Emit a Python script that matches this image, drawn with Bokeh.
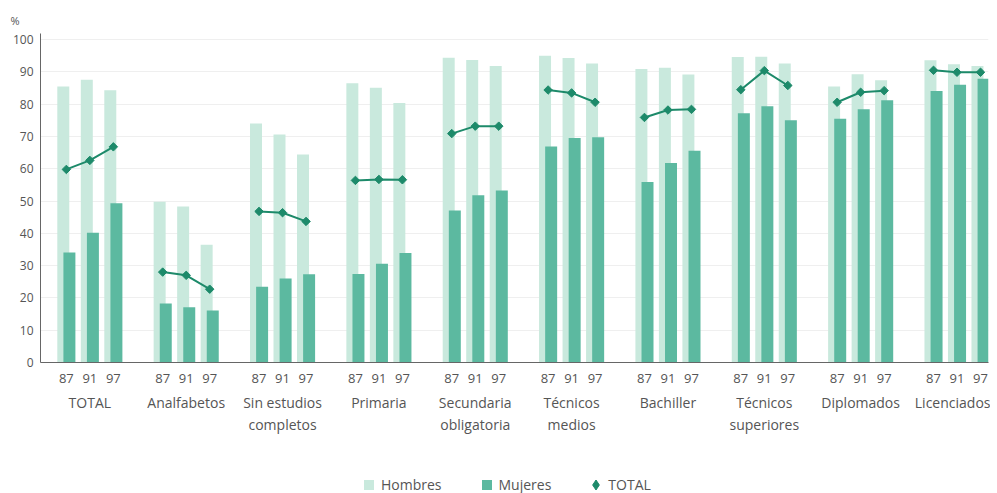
import numpy as np
from bokeh.plotting import figure
from bokeh.layouts import column
from bokeh.models import ColumnDataSource, LinearAxis, FixedTicker, Range1d, Legend, LegendItem
from bokeh.embed import file_html
from bokeh.resources import INLINE

groups = ["TOTAL", "Analfabetos", "Sin estudios\ncompletos", "Primaria",
          "Secundaria\nobligatoria", "Técnicos\nmedios", "Bachiller",
          "Técnicos\nsuperiores", "Diplomados", "Licenciados"]
years = ["87", "91", "97"]
y_ticks = [0, 10, 20, 30, 40, 50, 60, 70, 80, 90, 100]

hombres = [
    [85.5, 87.6, 84.3],
    [49.8, 48.3, 36.5],
    [74.0, 70.6, 64.4],
    [86.5, 85.1, 80.4],
    [94.4, 93.7, 91.8],
    [95.0, 94.3, 92.6],
    [90.9, 91.3, 89.2],
    [94.6, 94.7, 92.6],
    [85.5, 89.3, 87.4],
    [93.6, 92.4, 91.8],
]
mujeres = [
    [34.1, 40.2, 49.3],
    [18.3, 17.1, 16.1],
    [23.5, 26.0, 27.3],
    [27.4, 30.6, 33.9],
    [47.1, 51.8, 53.3],
    [66.9, 69.5, 69.8],
    [55.9, 61.8, 65.6],
    [77.2, 79.4, 75.0],
    [75.5, 78.4, 81.2],
    [84.1, 86.0, 87.9],
]
total = [
    [59.8, 62.6, 66.8],
    [28.0, 27.0, 22.7],
    [46.8, 46.4, 43.7],
    [56.4, 56.7, 56.6],
    [70.9, 73.2, 73.2],
    [84.4, 83.5, 80.6],
    [75.9, 78.2, 78.4],
    [84.5, 90.4, 85.8],
    [80.6, 83.7, 84.2],
    [90.5, 89.9, 89.9],
]

C_H = "#c9e9dd"
C_M = "#5cb9a0"
C_T = "#1d8a6a"
TXT = "#555555"
FONT = "Open Sans"

GROUP_STEP = 41
YEAR_STEP = 10
OFFSET = 1.3
BAR_W = 5.1

xs, xh, xm, hs, ms, ts = [], [], [], [], [], []
centers = []
for i, g in enumerate(groups):
    centers.append(i * GROUP_STEP + YEAR_STEP)
    for j, yr in enumerate(years):
        x = i * GROUP_STEP + j * YEAR_STEP
        xs.append(x)
        xh.append(x - OFFSET)
        xm.append(x + OFFSET)
        hs.append(hombres[i][j])
        ms.append(mujeres[i][j])
        ts.append(total[i][j])

src = ColumnDataSource(dict(x=xs, xh=xh, xm=xm, h=hs, m=ms, t=ts))

p = figure(width=990, height=460, x_range=Range1d(-11, 392.4), y_range=Range1d(0, 101.9),
           output_backend="svg", toolbar_location=None,
           min_border_left=40, min_border_right=2, min_border_top=33, min_border_bottom=98)
p.outline_line_color = None
p.background_fill_color = "white"
p.border_fill_color = "white"

p.title.text = "%"
p.title.align = "left"
p.title.offset = -30
p.title.text_font = FONT
p.title.text_font_size = "11px"
p.title.text_font_style = "normal"
p.title.text_color = TXT
p.title.standoff = 11

p.vbar(x="xh", top="h", width=BAR_W, bottom=0, source=src, fill_color=C_H, line_color=None)
p.vbar(x="xm", top="m", width=BAR_W, bottom=0, source=src, fill_color=C_M, line_color=None)
for i in range(len(groups)):
    p.line(x=xs[i * 3:i * 3 + 3], y=ts[i * 3:i * 3 + 3], line_color=C_T, line_width=2)
p.scatter(x="x", y="t", source=src, marker="square", angle=np.pi / 4, size=6,
          fill_color=C_T, line_color=C_T)

# Y axis
p.yaxis.ticker = FixedTicker(ticks=y_ticks)
p.yaxis.major_tick_out = 0
p.yaxis.major_tick_in = 0
p.yaxis.minor_tick_line_color = None
p.yaxis.major_label_standoff = 7
p.yaxis.major_label_text_font = FONT
p.yaxis.major_label_text_font_size = "12px"
p.yaxis.major_label_text_color = TXT
p.yaxis.axis_line_color = "#666666"
p.ygrid.ticker = FixedTicker(ticks=y_ticks)
p.ygrid.grid_line_color = "#efefef"
p.xgrid.visible = False

# Year axis
xa = p.xaxis[0]
xa.ticker = FixedTicker(ticks=xs)
xa.major_label_overrides = {x: years[k % 3] for k, x in enumerate(xs)}
xa.major_tick_out = 0
xa.major_tick_in = 0
xa.minor_tick_line_color = None
xa.major_label_standoff = 11
xa.major_label_text_font = FONT
xa.major_label_text_font_size = "13px"
xa.major_label_text_color = TXT
xa.axis_line_color = "#666666"

# Group axis
ga = LinearAxis(ticker=FixedTicker(ticks=centers),
                major_label_overrides={c: g for c, g in zip(centers, groups)},
                axis_line_color=None, major_tick_line_color=None, minor_tick_line_color=None,
                major_tick_out=0, major_tick_in=0, major_label_standoff=7,
                major_label_text_font=FONT, major_label_text_font_size="14px",
                major_label_text_color=TXT)
p.add_layout(ga, "below")

# Legend in its own strip below the chart (proxy renderers hold no visible data)
lf = figure(width=990, height=33, x_range=Range1d(0, 1), y_range=Range1d(0, 1),
            output_backend="svg", toolbar_location=None,
            x_axis_location=None, y_axis_location=None,
            min_border=0, min_border_left=0, min_border_right=0,
            min_border_top=0, min_border_bottom=0)
lf.outline_line_color = None
lf.xgrid.visible = False
lf.ygrid.visible = False
nan = [float("nan")]
rh = lf.scatter(x=nan, y=nan, marker="square", size=10, fill_color=C_H, line_color=None)
rm = lf.scatter(x=nan, y=nan, marker="square", size=10, fill_color=C_M, line_color=None)
rt = lf.scatter(x=nan, y=nan, marker="diamond", size=10, fill_color=C_T, line_color=C_T)
leg = Legend(items=[LegendItem(label="Hombres", renderers=[rh]),
                    LegendItem(label="Mujeres", renderers=[rm]),
                    LegendItem(label="TOTAL", renderers=[rt])],
             orientation="horizontal", location=(316, -4),
             glyph_width=25, glyph_height=25, label_standoff=0, spacing=32,
             padding=0, margin=0, border_line_color=None, background_fill_alpha=0,
             label_text_font=FONT, label_text_font_size="14px", label_text_color=TXT)
lf.add_layout(leg, "center")

open("out.html", "w").write(file_html(column(p, lf, spacing=0), INLINE))
